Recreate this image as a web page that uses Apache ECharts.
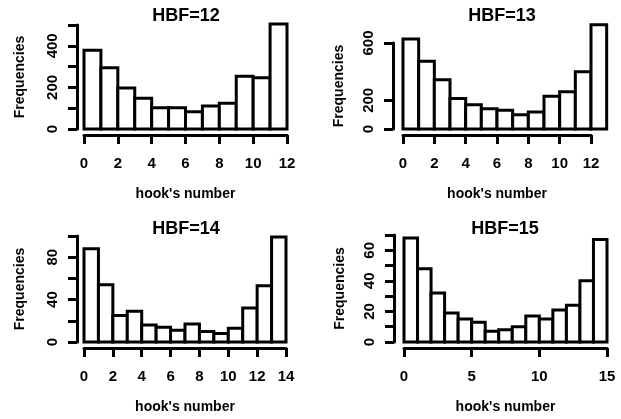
<!DOCTYPE html>
<html>
<head>
<meta charset="utf-8">
<script src="https://cdn.jsdelivr.net/npm/echarts@6/dist/echarts.min.js"></script>
<style>
  html, body { margin: 0; padding: 0; background: #fff; }
  #chart { width: 621px; height: 419px; }
</style>
</head>
<body>
<div id="chart"></div>
<script>
// Histogram counts of hook's number, one bin per unit starting at 0
const hbf12Counts = [379, 294, 197, 148, 102, 102, 83, 111, 124, 254, 246, 505];
const hbf13Counts = [628, 472, 344, 212, 170, 142, 130, 100, 119, 228, 260, 400, 728];
const hbf14Counts = [88, 54, 25, 29, 16, 14, 11, 17, 10, 8, 13, 32, 53, 99];
const hbf15Counts = [68, 48, 32, 19, 15, 13, 7, 8, 10, 17, 15, 21, 24, 40, 67];

const panelTitles = ['HBF=12', 'HBF=13', 'HBF=14', 'HBF=15'];
const xTitle = "hook's number";
const yTitle = 'Frequencies';

// x-axis ticks (all labelled)
const hbf12XTicks = [0, 2, 4, 6, 8, 10, 12];
const hbf13XTicks = [0, 2, 4, 6, 8, 10, 12];
const hbf14XTicks = [0, 2, 4, 6, 8, 10, 12, 14];
const hbf15XTicks = [0, 5, 10, 15];

// y-axis ticks and the subset that carries a label
const hbf12YTicks = [0, 100, 200, 300, 400, 500];
const hbf12YLabels = [0, 200, 400];
const hbf13YTicks = [0, 200, 600];
const hbf13YLabels = [0, 200, 600];
const hbf14YTicks = [0, 20, 40, 60, 80, 100];
const hbf14YLabels = [0, 40, 80];
const hbf15YTicks = [0, 10, 20, 30, 40, 50, 60, 70];
const hbf15YLabels = [0, 20, 40, 60];

const panels = [
  { counts: hbf12Counts, xTicks: hbf12XTicks, yTicks: hbf12YTicks, yLabels: hbf12YLabels },
  { counts: hbf13Counts, xTicks: hbf13XTicks, yTicks: hbf13YTicks, yLabels: hbf13YLabels },
  { counts: hbf14Counts, xTicks: hbf14XTicks, yTicks: hbf14YTicks, yLabels: hbf14YLabels },
  { counts: hbf15Counts, xTicks: hbf15XTicks, yTicks: hbf15YTicks, yLabels: hbf15YLabels }
];

// Plot rectangles: x spans first..last x tick, y spans first..last y tick
const layout = [
  { left: 84,  top: 25,  width: 203, height: 104, yOffset: 7,  yGap: 50, titleX: 186, titleY: 16 },
  { left: 403, top: 43,  width: 188, height: 86,  yOffset: 10, yGap: 47, titleX: 502, titleY: 16 },
  { left: 84,  top: 236, width: 202, height: 106, yOffset: 7,  yGap: 50, titleX: 186, titleY: 229 },
  { left: 404, top: 235, width: 203, height: 107, yOffset: 10, yGap: 47, titleX: 505, titleY: 229 }
];

const FONT = '"Liberation Sans", Arial, sans-serif';
const INK = '#000';

const chart = echarts.init(document.getElementById('chart'), null, { renderer: 'canvas' });

const grid = [], xAxis = [], yAxis = [], series = [], graphic = [];

panels.forEach((p, k) => {
  const L = layout[k];
  grid.push({ left: L.left, top: L.top, width: L.width, height: L.height, containLabel: false });

  const xMax = p.xTicks[p.xTicks.length - 1];
  const yMax = p.yTicks[p.yTicks.length - 1];

  xAxis.push({
    gridIndex: k, type: 'value', min: 0, max: xMax,
    interval: p.xTicks[1] - p.xTicks[0],
    offset: 6,
    axisLine: { show: true, onZero: false, lineStyle: { color: INK, width: 3 } },
    axisTick: { show: true, length: 9, customValues: p.xTicks, lineStyle: { color: INK, width: 3 } },
    axisLabel: {
      customValues: p.xTicks, margin: 21, color: INK,
      fontFamily: FONT, fontWeight: 'bold', fontSize: 15
    },
    splitLine: { show: false },
    name: xTitle, nameLocation: 'middle', nameGap: 52,
    nameTextStyle: { color: INK, fontFamily: FONT, fontWeight: 'bold', fontSize: 14 }
  });

  yAxis.push({
    gridIndex: k, type: 'value', min: 0, max: yMax,
    interval: p.yTicks[1] - p.yTicks[0],
    offset: L.yOffset,
    axisLine: { show: true, onZero: false, lineStyle: { color: INK, width: 3 } },
    axisTick: { show: true, length: 9, customValues: p.yTicks, lineStyle: { color: INK, width: 3 } },
    axisLabel: {
      customValues: p.yLabels, rotate: 90, margin: 17, color: INK,
      fontFamily: FONT, fontWeight: 'bold', fontSize: 15
    },
    splitLine: { show: false },
    name: yTitle, nameLocation: 'middle', nameRotate: 90, nameGap: L.yGap,
    nameTextStyle: { color: INK, fontFamily: FONT, fontWeight: 'bold', fontSize: 14 }
  });

  series.push({
    type: 'custom',
    xAxisIndex: k, yAxisIndex: k,
    clip: false,
    data: p.counts.map((c, i) => [i, c]),
    encode: { x: 0, y: 1 },
    renderItem: function (params, api) {
      const i = api.value(0);
      const c = api.value(1);
      const base = api.coord([i, 0]);
      const top = api.coord([i + 1, c]);
      return {
        type: 'rect',
        shape: { x: base[0], y: top[1], width: top[0] - base[0], height: base[1] - top[1] },
        style: { fill: '#fff', stroke: INK, lineWidth: 3 }
      };
    }
  });

  graphic.push({
    type: 'text', x: L.titleX, y: L.titleY,
    style: {
      text: panelTitles[k], fill: INK, font: 'bold 18px ' + FONT,
      textAlign: 'center', textVerticalAlign: 'middle'
    }
  });
});

chart.setOption({
  backgroundColor: '#fff',
  animation: false,
  grid, xAxis, yAxis, series, graphic
});
</script>
</body>
</html>
